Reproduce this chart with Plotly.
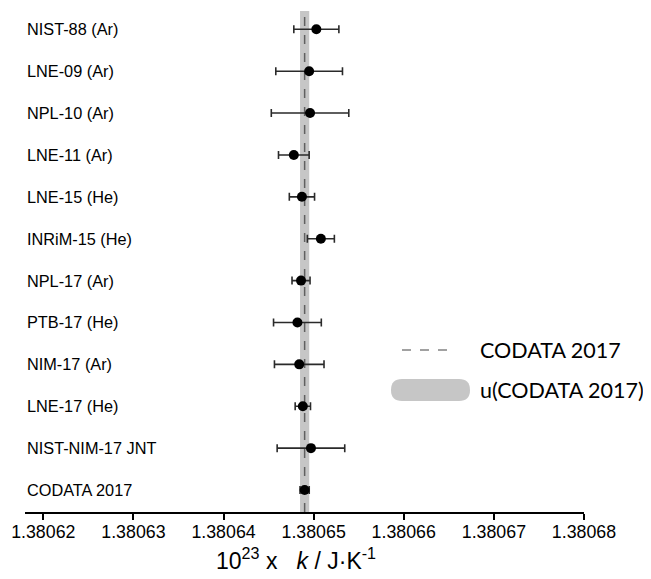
import plotly.graph_objects as go

# ---- data ----
labels = ["NIST-88 (Ar)", "LNE-09 (Ar)", "NPL-10 (Ar)", "LNE-11 (Ar)", "LNE-15 (He)",
          "INRiM-15 (He)", "NPL-17 (Ar)", "PTB-17 (He)", "NIM-17 (Ar)", "LNE-17 (He)",
          "NIST-NIM-17 JNT", "CODATA 2017"]
values = [1.3806503, 1.3806495, 1.3806496, 1.3806478, 1.3806487,
          1.3806508, 1.3806486, 1.3806482, 1.3806484, 1.3806488,
          1.3806497, 1.380649]
uncert = [2.5e-6, 3.7e-6, 4.3e-6, 1.7e-6, 1.4e-6,
          1.5e-6, 1.0e-6, 2.65e-6, 2.75e-6, 0.85e-6,
          3.75e-6, 0.51e-6]
codata_k = 1.380649
codata_u = 0.51e-6
tick_vals = [1.38062, 1.38063, 1.38064, 1.38065, 1.38066, 1.38067, 1.38068]
tick_text = ["1.38062", "1.38063", "1.38064", "1.38065", "1.38066", "1.38067", "1.38068"]

n = len(labels)
rows = [n - 1 - i for i in range(n)]

FONT = "Liberation Sans, Arial, sans-serif"

fig = go.Figure()
fig.add_trace(go.Scatter(
    x=values, y=rows, mode="markers",
    marker=dict(color="black", size=10),
    error_x=dict(type="data", array=uncert, visible=True, color="#2a2a2a",
                 thickness=1.6, width=4),
    showlegend=False, hoverinfo="skip"))

shapes = [
    dict(type="rect", xref="x", yref="paper", x0=codata_k - codata_u, x1=codata_k + codata_u,
         y0=0, y1=1, fillcolor="#c6c6c6", line=dict(width=0), layer="below"),
    dict(type="line", xref="x", yref="paper", x0=codata_k, x1=codata_k, y0=0, y1=1,
         line=dict(color="#606060", width=1.5, dash="dash"), layer="below"),
    # legend symbols
    dict(type="line", xref="paper", yref="paper", x0=0.6744, x1=0.7639, y0=0.3234, y1=0.3234,
         line=dict(color="#444444", width=1.2, dash="dash")),
    dict(type="path", xref="paper", yref="paper", xsizemode="pixel", ysizemode="pixel",
         xanchor=0.7254, yanchor=0.2435,
         path="M -28.5,-11 L 28.5,-11 Q 39.5,-11 39.5,0 Q 39.5,11 28.5,11 L -28.5,11 "
              "Q -39.5,11 -39.5,0 Q -39.5,-11 -28.5,-11 Z",
         fillcolor="#c6c6c6", line=dict(width=0)),
]

annotations = []
for lab, r in zip(labels, rows):
    annotations.append(dict(text=lab, xref="paper", yref="y", x=0, y=r, xanchor="left",
                            yanchor="middle", showarrow=False,
                            font=dict(family=FONT, size=16.3, color="black")))
annotations += [
    dict(text="CODATA 2017", xref="paper", yref="paper", x=0.8104, y=0.3234,
         xanchor="left", yanchor="middle", showarrow=False,
         font=dict(family="Lato, sans-serif", size=21.5, color="black")),
    dict(text="u(CODATA 2017)", xref="paper", yref="paper", x=0.8104, y=0.2435,
         xanchor="left", yanchor="middle", showarrow=False,
         font=dict(family="Lato, sans-serif", size=21.5, color="black")),
    dict(text="10<sup>23</sup> x   <i>k</i> / J·K<sup>-1</sup>", xref="paper", yref="paper",
         x=0.4848, y=-0.094, xanchor="center", yanchor="middle", showarrow=False,
         font=dict(family=FONT, size=23, color="black")),
]

# page body has an 8px margin; figure sized to fit the window
fig.update_layout(
    width=643, height=571,
    margin=dict(l=17, r=67, t=3, b=67),
    plot_bgcolor="white", paper_bgcolor="white",
    shapes=shapes, annotations=annotations,
    xaxis=dict(range=[1.38061797, 1.38068], tickvals=tick_vals, ticktext=tick_text,
               showline=True, linecolor="black", linewidth=1.5,
               ticks="outside", ticklen=6, tickwidth=1.5, tickcolor="black",
               showgrid=False, zeroline=False, ticklabelstandoff=-3,
               tickfont=dict(family=FONT, size=17.8, color="black")),
    yaxis=dict(range=[-0.525, 11.437], visible=False, showgrid=False, zeroline=False),
)

fig.write_html("out.html")
